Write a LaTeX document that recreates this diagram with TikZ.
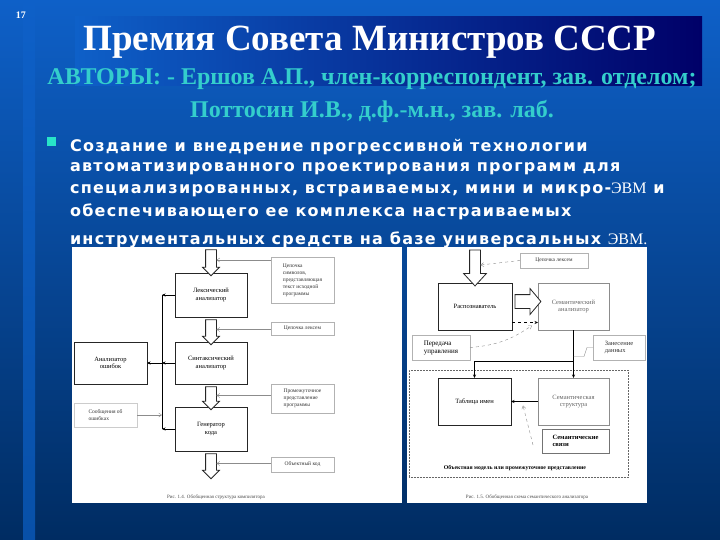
\documentclass[tikz,border=0pt]{standalone}
\usepackage{fontspec}
\setmainfont{Liberation Serif}
\newfontfamily\bodyfont[LetterSpace=8]{DejaVu Sans}
\usetikzlibrary{arrows.meta, positioning, calc, shapes.arrows}
\definecolor{slidetop}{RGB}{14,96,200}
\definecolor{slidemid}{RGB}{6,76,160}
\definecolor{slidebot}{RGB}{0,44,98}
\definecolor{bandnavy}{RGB}{0,0,104}
\definecolor{authorcyan}{RGB}{52,206,204}
\definecolor{bulletcyan}{RGB}{40,228,200}
\tikzset{
  framebox/.style = {draw=black!85, line width=0.8pt, fill=white},
  greybox/.style  = {draw=black!45, line width=0.7pt, fill=white, text=black!60},
  notebox/.style  = {draw=black!30, line width=0.4pt, fill=white},
}

\begin{document}
\begin{tikzpicture}[
    x=1pt, y=-1pt,
    >={Stealth[length=3.5pt, width=3pt]},
    every node/.style ={inner sep=0pt, outer sep=0pt},
    box/.style    ={framebox, align=center, font=\fontsize{6.5}{7.5}\selectfont,
                    minimum width=72, minimum height=44},
    sbox/.style   ={greybox, align=center, font=\fontsize{6.5}{7.5}\selectfont,
                    minimum width=71, minimum height=47},
    note/.style   ={notebox, align=left, inner sep=2pt,
                    font=\fontsize{5.5}{7}\selectfont, text=black!80},
    hollow/.style ={single arrow, draw=black!85, fill=white, line width=0.8pt,
                    inner xsep=0pt, inner ysep=5pt, single arrow head extend=3pt,
                    single arrow tip angle=90},
    harrow/.style ={hollow, rotate=-90},
    hint/.style   ={draw=black!45, line width=0.4pt,
                    -{Straight Barb[length=3pt,width=4pt]}},
    flow/.style   ={->, line width=0.7pt, draw=black},
    zone/.style   ={draw=black!60, densely dotted, line width=0.5pt},
    caption/.style={font=\fontsize{5}{6}\selectfont, text=black!70},
    bodyline/.style={anchor=west, text=white,
                    font=\bodyfont\bfseries\fontsize{16}{18}\selectfont}
  ]
  \useasboundingbox (0,0) rectangle (720,540);

  %% --- slide background ------------------------------------------------
  \shade[top color=slidetop, middle color=slidemid, bottom color=slidebot]
      (0,0) rectangle (720,540);
  \shade[top color=slidetop, bottom color=slidemid!80!slidetop]
      (23,0) rectangle (35,540);
  \shade[left color=slidetop, right color=bandnavy] (75,17) rectangle (702,86);

  %% --- heading -----------------------------------------------------------
  \node[text=white, font=\bfseries\fontsize{10}{12}\selectfont] (num) at (21,15) {17};
  \node[text=white, font=\bfseries\fontsize{37}{40}\selectfont] (title) at (370,42)
      {Премия Совета Министров СССР};
  \node[text=authorcyan, font=\bfseries\fontsize{24}{26}\selectfont] (authors) at (372,79)
      {АВТОРЫ: - Ершов А.П., член-корреспондент, зав. отделом;};
  \node[text=authorcyan, font=\bfseries\fontsize{24}{26}\selectfont] (second) at (372,111)
      {Поттосин И.В., д.ф.-м.н., зав. лаб.};

  %% --- bullet text -------------------------------------------------------
  \node[fill=bulletcyan, minimum size=9] (bullet) at (51.5,142) {};
  \node[bodyline] (l1) at (70,147) {Создание и внедрение прогрессивной технологии};
  \node[bodyline] (l2) at (70,169) {автоматизированного проектирования программ для};
  \node[bodyline] (l3) at (70,190) {специализированных, встраиваемых, мини и микро-{\normalfont ЭВМ} и};
  \node[bodyline] (l4) at (70,212) {обеспечивающего ее комплекса настраиваемых};
  \node[bodyline] (l5) at (70,240) {инструментальных средств на базе универсальных {\normalfont ЭВМ.}};

  %% --- the two figures ---------------------------------------------------
  \node[fill=white, minimum width=330, minimum height=256, anchor=north west] (figA) at (72,247) {};
  \node[fill=white, minimum width=240, minimum height=256, anchor=north west] (figB) at (407,247) {};

  %% --- figure 1.4: compiler structure ------------------------------------
  \node[box] (lex) at (211,295) {Лексический\\анализатор};
  \node[box, minimum height=42] (syn) at (211,363) {Синтаксический\\анализатор};
  \node[box] (gen) at (211,429) {Генератор\\кода};
  \node[box, minimum width=73, minimum height=42] (err) at (110.5,363) {Анализатор\\ошибок};

  \node[note, minimum width=63, minimum height=46] (n1) at (302.5,280)
      {Цепочка\\символов,\\представляющая\\текст исходной\\программы};
  \node[note, minimum width=63, minimum height=13] (n2) at (302.5,328.5) {Цепочка лексем};
  \node[note, minimum width=63, minimum height=29] (n3) at (302.5,398.5)
      {Промежуточное\\представление\\программы};
  \node[note, minimum width=63, minimum height=15] (n4) at (302.5,464.5) {Объектный код};
  \node[note, draw=black!20, minimum width=63, minimum height=24] (n5) at (105.5,415)
      {Сообщения об\\ошибках};

  \coordinate (inA)  at (211,247);
  \coordinate (outA) at (211,476);
  \coordinate (bus)  at (162,0);
  \path (inA) -- node[harrow, minimum height=26] (a1) {} (lex.north);
  \path (lex.south) -- node[harrow, minimum height=25] (a2) {} (syn.north);
  \path (syn.south) -- node[harrow, minimum height=23] (a3) {} (gen.north);
  \path (gen.south) -- node[harrow, minimum height=25] (a4) {} (outA);

  \draw[hint] (a1.north -| n1.west) -- (a1.north);
  \draw[hint] (a2.north -| n2.west) -- (a2.north);
  \draw[hint] (a3.north -| n3.west) -- (a3.north);
  \draw[hint] (a4.north -| n4.west) -- (a4.north);

  \draw[line width=0.7pt] (lex.west -| bus) -- (gen.west -| bus);
  \foreach \n in {lex,syn,gen}
      \draw[flow] (\n.west) -- (\n.west -| bus);
  \draw[flow] (syn.west -| bus) -- (err.east);
  \draw[hint] (n5.east) -- (n5.east -| bus);

  \node[caption] (capA) at (216,497) {Рис. 1.4. Обобщенная структура компилятора};

  %% --- figure 1.5: semantic analyser -------------------------------------
  \node[zone, minimum width=219, minimum height=107] (objzone) at (518.5,423.5) {};
  \node[box, minimum width=74, minimum height=47] (rec) at (475,306.5) {Распознаватель};
  \node[sbox] (sem) at (573.5,306.5) {Семантический\\анализатор};
  \node[box, minimum width=73, minimum height=47] (tab) at (474.5,401.5) {Таблица имен};
  \node[sbox] (sst) at (573.5,401.5) {Семантическая\\структура};

  \node[note, minimum width=68, minimum height=15] (nLex) at (554,260.5) {Цепочка лексем};
  \node[note, text=black, font=\fontsize{7}{8}\selectfont, minimum width=58, minimum height=25]
      (nCtl) at (441,347.5) {Передача\\управления};
  \node[note, font=\fontsize{6.5}{7.5}\selectfont, minimum width=52, minimum height=25]
      (nData) at (619,347.5) {Занесение\\данных};
  \node[note, text=black, font=\bfseries\fontsize{6.5}{7.5}\selectfont, draw=black!55,
        minimum width=67, minimum height=24] (nLink) at (575.5,441) {Семантические\\связи};
  \node[font=\bfseries\fontsize{5.8}{7}\selectfont] (objlbl) at (515,468)
      {Объектная модель или промежуточное представление};

  \coordinate (inB) at (475,247);
  \path (inB) -- node[harrow, single arrow head extend=6pt, single arrow tip angle=85,
                      minimum height=36] (b1) {} (rec.north);
  \path ([yshift=5pt]rec.east) -- node[hollow, inner ysep=6.5pt, single arrow head extend=6pt,
                      single arrow tip angle=100, minimum height=26] (b2) {} ([yshift=5pt]sem.west);
  \draw[flow, dashed] ([yshift=-16pt]rec.east) -- ([yshift=-16pt]sem.west);

  \draw[hint, dashed] (nLex.west) -- (b1.north);
  \draw[hint, dashed] (nCtl.east) to[bend right=15] ([xshift=-6pt, yshift=-19pt]sem.west);

  \coordinate (split) at ($(sem.south)!0.65!(sst.north)$);
  \draw[flow] (sem.south) -- (sst.north);
  \draw[flow] (split) -| (tab.north);
  \draw[flow] (sst.west) -- (tab.east);
  \draw[draw=black!45, line width=0.4pt] (nData.west) -- ++(-6,0) -- ++(-3,9) -- (sem.south |- 0,356.5);
  \draw[hint, dashed] ([xshift=-9pt, yshift=-4pt]nLink.west) -- ([xshift=-15pt, yshift=-4pt]sst.west);

  \node[caption] (capB) at (527,497) {Рис. 1.5. Обобщенная схема семантического анализатора};
\end{tikzpicture}
\end{document}
